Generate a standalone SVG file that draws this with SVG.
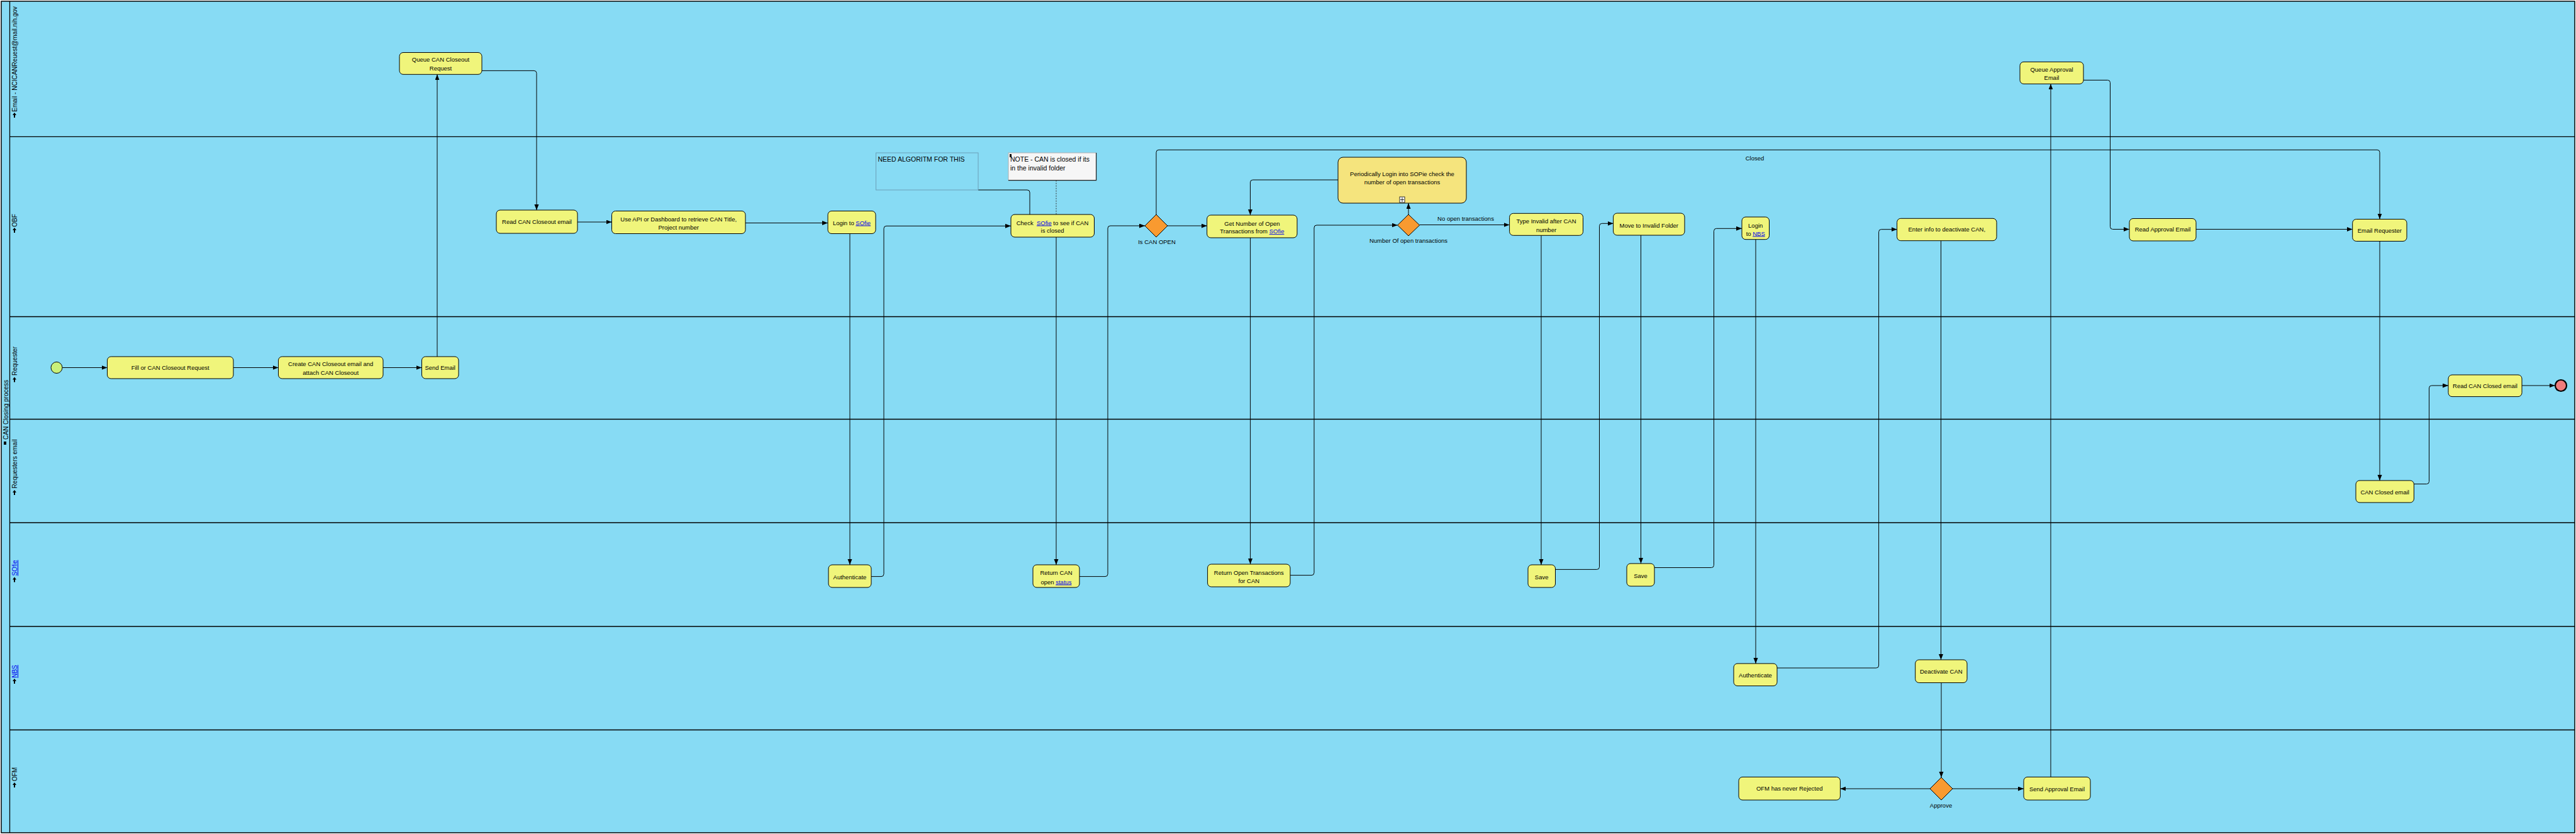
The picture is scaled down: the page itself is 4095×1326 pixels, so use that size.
<svg xmlns="http://www.w3.org/2000/svg" width="4095" height="1326" viewBox="0 0 4095 1326">
<defs>
<marker id="ah" markerUnits="userSpaceOnUse" markerWidth="10" markerHeight="8" refX="9" refY="3.5" orient="auto">
<path d="M0,0 L9,3.5 L0,7 z" fill="#000"/>
</marker>
<style>
.pool{fill:#87DBF4;stroke:#000;stroke-width:1.5}
.ln{stroke:#000;stroke-width:1.3;fill:none}
.box{fill:#F0F57B;stroke:#000;stroke-width:1}
.sub{fill:#F5E47D;stroke:#000;stroke-width:1}
.dia{fill:#F99A30;stroke:#000;stroke-width:1}
.t{font-family:"Liberation Sans",Arial,sans-serif;font-size:9.5px;fill:#000;text-anchor:middle}
.ll{font-family:"Liberation Sans",Arial,sans-serif;font-size:10px;fill:#000;text-anchor:middle}
.an{font-family:"Liberation Sans",Arial,sans-serif;font-size:10.5px;fill:#000}
.lnk{fill:#0000EE;text-decoration:underline}
.c{fill:none;stroke:#000;stroke-width:1;marker-end:url(#ah)}
.a{fill:none;stroke:#000;stroke-width:1}
.d{fill:none;stroke:#333;stroke-width:1;stroke-dasharray:2,2}
.ic{fill:#000}
</style>
</defs>

<g id="pool">
<rect class="pool" x="2" y="2" width="4091" height="1322"/>
<line class="ln" x1="15.5" y1="2" x2="15.5" y2="1324"/>
<line class="ln" x1="15.5" y1="217.4" x2="4093" y2="217.4"/>
<line class="ln" x1="15.5" y1="503.5" x2="4093" y2="503.5"/>
<line class="ln" x1="15.5" y1="666.5" x2="4093" y2="666.5"/>
<line class="ln" x1="15.5" y1="831" x2="4093" y2="831"/>
<line class="ln" x1="15.5" y1="996" x2="4093" y2="996"/>
<line class="ln" x1="15.5" y1="1160.5" x2="4093" y2="1160.5"/>
<text class="ll" transform="translate(12.5,651.5) rotate(-90)">CAN Closing process</text>
<rect class="ic" x="6" y="702" width="4" height="5"/>
</g>

<g id="lane-labels">
<text class="ll" transform="translate(27,94) rotate(-90)">Email - NCICANReuest@mail.nih.gov</text>
<path class="ic" d="M20,183 L26,183 L23,179 z M22,183 h2 v4 h-2 z"/>
<text class="ll" transform="translate(27,350.5) rotate(-90)">OBF</text>
<path class="ic" d="M20,366 L26,366 L23,362 z M22,366 h2 v4 h-2 z"/>
<text class="ll" transform="translate(27,574) rotate(-90)">Requester</text>
<path class="ic" d="M20,603.5 L26,603.5 L23,599.5 z M22,603.5 h2 v4 h-2 z"/>
<text class="ll" transform="translate(27,737.5) rotate(-90)">Requesters email</text>
<path class="ic" d="M20,783 L26,783 L23,779 z M22,783 h2 v4 h-2 z"/>
<text class="ll lnk" transform="translate(27,903) rotate(-90)">SOfie</text>
<path class="ic" d="M20,921.6 L26,921.6 L23,917.6 z M22,921.6 h2 v4 h-2 z"/>
<text class="ll lnk" transform="translate(27,1067.5) rotate(-90)">NBS</text>
<path class="ic" d="M20,1083 L26,1083 L23,1079 z M22,1083 h2 v4 h-2 z"/>
<text class="ll" transform="translate(27,1231) rotate(-90)">OFM</text>
<path class="ic" d="M20,1248 L26,1248 L23,1244 z M22,1248 h2 v4 h-2 z"/>
</g>

<g id="connectors">
<path class="c" d="M99,584.5 H170.5"/>
<path class="c" d="M371,584.5 H442.5"/>
<path class="c" d="M609,584.5 H670.5"/>
<path class="c" d="M695,567 V118.3"/>
<path class="c" d="M766,112.4 H849 Q853,112.4 853,116.4 V334"/>
<path class="c" d="M918,353 H972.5"/>
<path class="c" d="M1185,354.5 H1316"/>
<path class="c" d="M1351,371.5 V898"/>
<path class="c" d="M1385,916.6 H1401 Q1405,916.6 1405,912.6 V363.3 Q1405,359.3 1409,359.3 H1607"/>
<path class="c" d="M1679,377 V898"/>
<path class="c" d="M1716,916.6 H1757 Q1761,916.6 1761,912.6 V363 Q1761,359 1765,359 H1820"/>
<path class="c" d="M1838,341 V242.3 Q1838,238.3 1842,238.3 H3779 Q3783,238.3 3783,242.3 V348.5"/>
<text class="t" x="2789.5" y="254.5">Closed</text>
<path class="c" d="M1856,359 H1918.7"/>
<path class="c" d="M1987.6,378 V897"/>
<path class="c" d="M2051,914.6 H2085 Q2089,914.6 2089,910.6 V362 Q2089,358 2093,358 H2221.6"/>
<path class="c" d="M2239,341 V323"/>
<path class="c" d="M2127,286 H1991.5 Q1987.5,286 1987.5,290 V342"/>
<path class="c" d="M2256.7,357.5 H2399.6"/>
<text class="t" x="2330" y="351" style="text-anchor:middle">No open transactions</text>
<path class="c" d="M2450,374.3 V898"/>
<path class="c" d="M2472.5,905.4 H2538.5 Q2542.5,905.4 2542.5,901.4 V359.3 Q2542.5,355.3 2546.5,355.3 H2564.6"/>
<path class="c" d="M2608.5,374 V896"/>
<path class="c" d="M2630,902.5 H2720.5 Q2724.5,902.5 2724.5,898.5 V367.3 Q2724.5,363.3 2728.5,363.3 H2769"/>
<path class="c" d="M2791,380.7 V1055"/>
<path class="c" d="M2825,1062 H2982.6 Q2986.6,1062 2986.6,1058 V368.7 Q2986.6,364.7 2990.6,364.7 H3015.6"/>
<path class="c" d="M3085.5,382.7 V1049"/>
<path class="c" d="M3086,1085.5 V1236"/>
<path class="c" d="M3068,1254 H2925.4"/>
<path class="c" d="M3104,1254 H3217"/>
<path class="c" d="M3260,1235.4 V133.4"/>
<path class="c" d="M3312,127.4 H3350.5 Q3354.5,127.4 3354.5,131.4 V360.5 Q3354.5,364.5 3358.5,364.5 H3385"/>
<path class="c" d="M3491,364.5 H3739.7"/>
<path class="c" d="M3783,383.5 V764"/>
<path class="c" d="M3837.4,769.5 H3857.5 Q3861.5,769.5 3861.5,765.5 V617 Q3861.5,613 3865.5,613 H3892"/>
<path class="c" d="M4009,613 H4061.5"/>
<path class="a" d="M1555,302 H1633 Q1637,302 1637,306 V341"/>
<path class="d" d="M1679,286.7 V341"/>
</g>

<g id="start"><circle cx="90" cy="584.5" r="9" fill="#C9F07A" stroke="#000" stroke-width="1"/></g>

<g id="fill-request"><rect class="box" x="170.5" y="567" width="200.5" height="35" rx="6"/>
<text class="t" x="270.7" y="588">Fill or CAN Closeout Request</text></g>

<g id="create-email"><rect class="box" x="442.5" y="567" width="166.5" height="35" rx="6"/>
<text class="t" x="525.7" y="582">Create CAN Closeout email and</text>
<text class="t" x="525.7" y="595.5">attach CAN Closeout</text></g>

<g id="send-email"><rect class="box" x="670.5" y="567" width="58.5" height="35" rx="6"/>
<text class="t" x="699.7" y="588">Send Email</text></g>

<g id="queue-request"><rect class="box" x="635" y="83.5" width="131" height="34.8" rx="6"/>
<text class="t" x="700.5" y="98">Queue CAN Closeout</text>
<text class="t" x="700.5" y="112">Request</text></g>

<g id="read-closeout"><rect class="box" x="789" y="334" width="129" height="37" rx="6"/>
<text class="t" x="853.5" y="356.3">Read CAN Closeout email</text></g>

<g id="use-api"><rect class="box" x="972.5" y="335.5" width="212.5" height="36" rx="6"/>
<text class="t" x="1078.7" y="351.5">Use API or Dashboard to retrieve CAN Title,</text>
<text class="t" x="1078.7" y="364.5">Project number</text></g>

<g id="login-sofie"><rect class="box" x="1316" y="335.5" width="76" height="36" rx="6"/>
<text class="t" x="1354" y="357.5">Login to <tspan class="lnk">SOfie</tspan></text></g>

<g id="need-algorithm"><rect x="1392.5" y="243" width="162.5" height="59" fill="none" stroke="#6A9FB8" stroke-width="1"/>
<text class="an" x="1395.5" y="256.5">NEED ALGORITM FOR THIS</text></g>

<g id="note"><rect x="1603" y="243" width="139.6" height="43.7" fill="#F6F6F6" stroke="#B0B0B0" stroke-width="1"/>
<path d="M1742.6,243 V286.7 H1603" fill="none" stroke="#222" stroke-width="1.2"/>
<path class="ic" d="M1605,245 h3 v5 h-3 z"/>
<text class="an" x="1606" y="256.5">NOTE - CAN is closed if its</text>
<text class="an" x="1606" y="270.5">in the invalid folder</text></g>

<g id="check-sofie"><rect class="box" x="1607" y="341" width="132.5" height="36" rx="6"/>
<text class="t" x="1673" y="357.5" xml:space="preserve">Check  <tspan class="lnk">SOfie</tspan> to see if CAN</text>
<text class="t" x="1673" y="370.2">is closed</text></g>

<g id="authenticate-sofie"><rect class="box" x="1317" y="898" width="68" height="36" rx="6"/>
<text class="t" x="1351" y="921">Authenticate</text></g>

<g id="return-can"><rect class="box" x="1642" y="898" width="74" height="36" rx="6"/>
<text class="t" x="1679" y="914">Return CAN</text>
<text class="t" x="1679" y="928.5">open <tspan class="lnk">status</tspan></text></g>

<g id="is-can-open"><path class="dia" d="M1838,341 L1856,359 L1838,377 L1820,359 z"/>
<text class="t" x="1839" y="387.5">Is CAN OPEN</text></g>

<g id="get-number"><rect class="box" x="1918.7" y="342" width="143.3" height="36" rx="6"/>
<text class="t" x="1990.4" y="358.5">Get Number of Open</text>
<text class="t" x="1990.4" y="371.2">Transactions from <tspan class="lnk">SOfie</tspan></text></g>

<g id="return-open"><rect class="box" x="1919.6" y="897" width="131.4" height="36" rx="6"/>
<text class="t" x="1985.3" y="914">Return Open Transactions</text>
<text class="t" x="1985.3" y="926.5">for CAN</text></g>

<g id="periodically"><rect class="sub" x="2127" y="250" width="204" height="73" rx="8"/>
<text class="t" x="2229" y="279.5">Periodically Login into SOPie check the</text>
<text class="t" x="2229" y="292.5">number of open transactions</text>
<rect x="2225" y="313" width="8" height="9" fill="#fff" stroke="#000" stroke-width="0.8"/>
<path d="M2229,314 V321 M2226,317.5 H2232" stroke="#000" stroke-width="0.8"/></g>

<g id="num-open"><path class="dia" d="M2239,341 L2256.7,358 L2239,375 L2221.6,358 z"/>
<text class="t" x="2239" y="386">Number Of open transactions</text></g>

<g id="type-invalid"><rect class="box" x="2399.6" y="339.3" width="116.9" height="35" rx="6"/>
<text class="t" x="2458" y="354.5">Type Invalid after CAN</text>
<text class="t" x="2458" y="368.8">number</text></g>

<g id="save-1"><rect class="box" x="2429" y="898" width="43.5" height="36" rx="6"/>
<text class="t" x="2450.7" y="921">Save</text></g>

<g id="move-invalid"><rect class="box" x="2564.6" y="339" width="113.4" height="35" rx="6"/>
<text class="t" x="2621.3" y="361.5">Move to Invalid Folder</text></g>

<g id="save-2"><rect class="box" x="2586" y="896" width="44" height="36" rx="6"/>
<text class="t" x="2608" y="919">Save</text></g>

<g id="login-nbs"><rect class="box" x="2769" y="345" width="43.5" height="35.7" rx="6"/>
<text class="t" x="2790.7" y="362.2">Login</text>
<text class="t" x="2790.7" y="374.5">to <tspan class="lnk">NBS</tspan></text></g>

<g id="authenticate-nbs"><rect class="box" x="2756" y="1055" width="69" height="35.5" rx="6"/>
<text class="t" x="2790.5" y="1077">Authenticate</text></g>

<g id="enter-info"><rect class="box" x="3015.6" y="347.3" width="158.4" height="35.4" rx="6"/>
<text class="t" x="3094.8" y="368.2">Enter info to deactivate CAN,</text></g>

<g id="deactivate"><rect class="box" x="3044.7" y="1049" width="82.3" height="36.5" rx="6"/>
<text class="t" x="3085.8" y="1071">Deactivate CAN</text></g>

<g id="approve"><path class="dia" d="M3086,1236 L3104,1254 L3086,1272 L3068,1254 z"/>
<text class="t" x="3085.5" y="1283.5">Approve</text></g>

<g id="ofm-never"><rect class="box" x="2764" y="1235.4" width="161.4" height="36.6" rx="6"/>
<text class="t" x="2844.7" y="1257.3">OFM has never Rejected</text></g>

<g id="send-approval"><rect class="box" x="3217" y="1235.4" width="106" height="36.6" rx="6"/>
<text class="t" x="3270" y="1257.5">Send Approval Email</text></g>

<g id="queue-approval"><rect class="box" x="3211" y="98.4" width="101" height="35" rx="6"/>
<text class="t" x="3261.5" y="113.5">Queue Approval</text>
<text class="t" x="3261.5" y="127.2">Email</text></g>

<g id="read-approval"><rect class="box" x="3385" y="347.5" width="106" height="35.5" rx="6"/>
<text class="t" x="3438" y="368.3">Read Approval Email</text></g>

<g id="email-requester"><rect class="box" x="3739.7" y="348.5" width="86.3" height="35" rx="6"/>
<text class="t" x="3782.8" y="369.5">Email Requester</text></g>

<g id="can-closed-email"><rect class="box" x="3745" y="764" width="92.4" height="35" rx="6"/>
<text class="t" x="3791.2" y="785.5">CAN Closed email</text></g>

<g id="read-can-closed"><rect class="box" x="3892" y="596" width="117" height="34.6" rx="6"/>
<text class="t" x="3950.5" y="616.5">Read CAN Closed email</text></g>

<g id="end"><circle cx="4071" cy="613" r="9" fill="#F07C7C" stroke="#000" stroke-width="2.2"/></g>
</svg>
